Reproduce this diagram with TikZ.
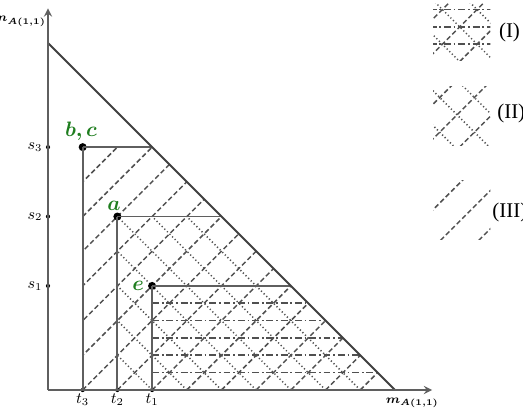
\documentclass[tikz,border=0pt]{standalone}
\usepackage{amsmath,amssymb,bm}
\usepackage{fontspec}
\newfontfamily\legfont{Liberation Serif}
\definecolor{ptgreen}{RGB}{30,125,30}
\definecolor{axisgray}{RGB}{95,95,95}
\definecolor{hatchgray}{RGB}{80,80,80}
\tikzset{
  solidline/.style={draw=axisgray, line width=1.1pt},
  dashline/.style={draw=hatchgray, line width=0.85pt, dash pattern=on 2.8pt off 1.6pt},
  dotline/.style={draw=hatchgray, line width=0.85pt, dash pattern=on 0.7pt off 1.4pt},
  dashdotline/.style={draw=hatchgray, line width=0.95pt, dash pattern=on 4pt off 1.6pt on 1pt off 1.6pt},
  bigdot/.style={circle, fill=black, inner sep=0pt, minimum size=4.6pt},
  tickdot/.style={circle, fill=black, inner sep=0pt, minimum size=2.4pt},
  ticklabel/.style={font=\small, inner sep=1pt},
  axislabel/.style={font=\fontsize{7.2}{9}\selectfont, inner sep=1pt},
  ptlabel/.style={text=ptgreen, font=\large, inner sep=1pt},
  leglabel/.style={anchor=west, font=\legfont\large, inner sep=0pt}
}

\begin{document}
\begin{tikzpicture}[x=0.7cm,y=0.7cm,>=stealth]
  \useasboundingbox (-1.383,-0.576) rectangle (13.69,11.24);

  \coordinate (O) at (0,0);
  \coordinate (xend) at (11.07,0);
  \coordinate (yend) at (0,11.0);
  \coordinate (ntop) at (0,10);
  \coordinate (mbot) at (10,0);
  \coordinate (h3) at (3,7);
  \coordinate (h2) at (5,5);
  \coordinate (h1) at (7,3);

  \begin{scope}
    \clip (1,0) -- (1,7) -- (3,7) -- (10,0) -- cycle;
    \foreach \c in {-5,...,9} \draw[dashline] (\c,0) -- ++(8,8);
  \end{scope}
  \begin{scope}
    \clip (2,0) -- (2,5) -- (5,5) -- (10,0) -- cycle;
    \foreach \d in {3,...,9} \draw[dotline] (\d,0) -- ++(-6,6);
  \end{scope}
  \begin{scope}
    \clip (3,0) -- (3,3) -- (7,3) -- (10,0) -- cycle;
    \foreach \y in {0.5,1,...,2.5} \draw[dashdotline] (3,\y) -- (10,\y);
  \end{scope}

  \node[tickdot] (t3) at (1,0) {};
  \node[tickdot] (t2) at (2,0) {};
  \node[tickdot] (t1) at (3,0) {};
  \node[tickdot] (s3) at (0,7) {};
  \node[tickdot] (s2) at (0,5) {};
  \node[tickdot] (s1) at (0,3) {};

  \node[bigdot] (bc) at (1,7) {};
  \node[bigdot] (a) at (2,5) {};
  \node[bigdot] (e) at (3,3) {};

  \draw[solidline] (bc.center) -- (t3.center);
  \draw[solidline] (bc.center) -- (h3);
  \draw[solidline] (a.center) -- (t2.center);
  \draw[solidline] (a.center) -- (h2);
  \draw[solidline] (e.center) -- (t1.center);
  \draw[solidline] (e.center) -- (h1);
  \draw[solidline, draw=black!75] (ntop) -- (mbot);

  \draw[solidline, ->] (O) -- (xend);
  \draw[solidline, ->] (O) -- (yend);

  \node[ticklabel, anchor=east] at (-0.1,7) {$s_3$};
  \node[ticklabel, anchor=east] at (-0.1,5) {$s_2$};
  \node[ticklabel, anchor=east] at (-0.1,3) {$s_1$};
  \node[ticklabel, anchor=north] at (1,-0.06) {$t_3$};
  \node[ticklabel, anchor=north] at (2,-0.06) {$t_2$};
  \node[ticklabel, anchor=north] at (3,-0.06) {$t_1$};
  \node[axislabel, anchor=east] (nlab) at (0.0,10.62) {$\bm{n_{A(1,1)}}$};
  \node[axislabel] (mlab) at (10.5,-0.38) {$\bm{m_{A(1,1)}}$};

  \node[ptlabel, anchor=south, xshift=-1pt] (bclab) at (bc.north) {$\bm{b,c}$};
  \node[ptlabel, anchor=south, xshift=-2pt] (alab) at (a.north) {$\bm{a}$};
  \node[ptlabel, anchor=east, xshift=-1pt] (elab) at (e.west) {$\bm{e}$};

  \begin{scope}
    \clip (11.1,9.5) rectangle (12.75,11.15);
    \foreach \c in {-0.6,0.4,1.4,2.4,3.4} \draw[dashline] (\c+9,9) -- ++(3,3);
    \foreach \d in {20.33,21.33,22.33,23.33,24.33} \draw[dotline] (\d-12,12) -- ++(3,-3);
    \foreach \y in {9.97,10.47,10.97} \draw[dashdotline] (11,\y) -- (13,\y);
  \end{scope}
  \begin{scope}
    \clip (11.1,7.05) rectangle (12.75,8.75);
    \foreach \c in {1.86,2.86,3.86,4.86,5.86} \draw[dashline] (\c+7,7) -- ++(3,3);
    \foreach \d in {17.72,18.72,19.72,20.72,21.72} \draw[dotline] (\d-9,9) -- ++(3,-3);
  \end{scope}
  \begin{scope}
    \clip (11.1,4.35) rectangle (12.75,6.05);
    \foreach \c in {5.9,7.0,8.1} \draw[dashline] (\c+4,4) -- ++(3,3);
  \end{scope}

  \node[leglabel] (legI) at (12.99,10.29) {(I)};
  \node[leglabel] (legII) at (12.94,7.98) {(II)};
  \node[leglabel] (legIII) at (12.8,5.12) {(III)};
\end{tikzpicture}
\end{document}
